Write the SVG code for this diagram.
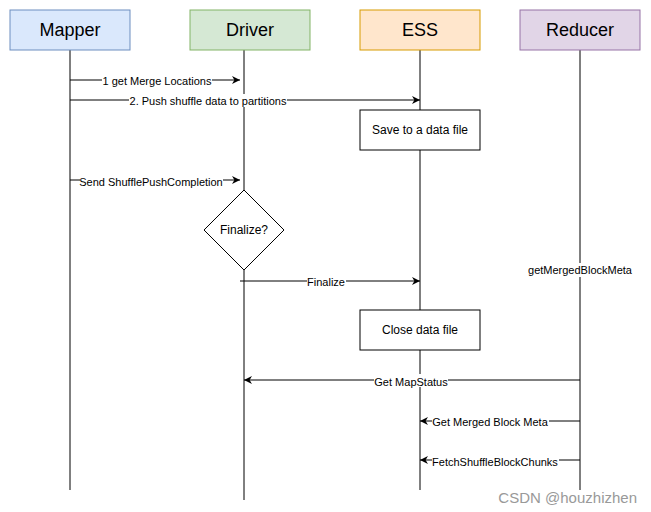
<svg xmlns="http://www.w3.org/2000/svg" width="651" height="512" viewBox="0 0 651 512">
<style>
.life{stroke:#000;stroke-width:1;fill:none}
.msg{stroke:#000;stroke-width:1;fill:none}
.box{fill:#fff;stroke:#000;stroke-width:1}
.hdr{font-family:"Liberation Sans",Arial,sans-serif;font-size:18px;fill:#000;text-anchor:middle;dominant-baseline:central}
.lbl{font-family:"Liberation Sans",Arial,sans-serif;font-size:11px;fill:#000;text-anchor:middle;dominant-baseline:central}
.txt{font-family:"Liberation Sans",Arial,sans-serif;font-size:12px;fill:#000;text-anchor:middle;dominant-baseline:central}
.bg{fill:#fff}
.wm{font-family:"Liberation Sans",Arial,sans-serif;font-size:15px;fill:#999;text-anchor:end;dominant-baseline:central}
</style>
<defs>
<marker id="ah" viewBox="0 0 10 10" refX="10" refY="5" markerWidth="8" markerHeight="8" markerUnits="userSpaceOnUse" orient="auto">
<path d="M0,0 L10,5 L0,10 L3,5 Z" fill="#000"/>
</marker>
</defs>
<rect width="651" height="512" fill="#fff"/>
<g id="lifelines">
<line class="life" x1="70" y1="50" x2="70" y2="490"/>
<line class="life" x1="244" y1="50" x2="244" y2="500"/>
<line class="life" x1="420" y1="50" x2="420" y2="490"/>
<line class="life" x1="580" y1="50" x2="580" y2="490"/>
</g>
<g id="mapper"><rect x="10" y="10" width="120" height="40" fill="#dae8fc" stroke="#6c8ebf"/><text class="hdr" x="70" y="30">Mapper</text></g>
<g id="driver"><rect x="190" y="10" width="120" height="40" fill="#d5e8d4" stroke="#82b366"/><text class="hdr" x="250" y="30">Driver</text></g>
<g id="ess"><rect x="360" y="10" width="120" height="40" fill="#ffe6cc" stroke="#d79b00"/><text class="hdr" x="420" y="30">ESS</text></g>
<g id="reducer"><rect x="520" y="10" width="120" height="40" fill="#e1d5e7" stroke="#9673a6"/><text class="hdr" x="580" y="30">Reducer</text></g>
<g id="save"><rect class="box" x="360" y="110" width="120" height="40"/><text class="txt" x="420" y="130">Save to a data file</text></g>
<g id="finalizeq"><path class="box" d="M244,190 L284,230 L244,270 L204,230 Z"/><text class="txt" x="244" y="230">Finalize?</text></g>
<g id="close"><rect class="box" x="360" y="310" width="120" height="40"/><text class="txt" x="420" y="330">Close data file</text></g>
<g id="reducer-note"><rect class="bg" x="528" y="263" width="106" height="14"/><text class="lbl" x="580" y="270">getMergedBlockMeta</text></g>
<g id="connectors">
<line class="msg" x1="70" y1="80" x2="240" y2="80" marker-end="url(#ah)"/>
<rect class="bg" x="102" y="74" width="110" height="13"/><text class="lbl" x="157" y="81">1 get Merge Locations</text>
<line class="msg" x1="70" y1="100" x2="420" y2="100" marker-end="url(#ah)"/>
<rect class="bg" x="129" y="94" width="158" height="13"/><text class="lbl" x="208" y="101">2. Push shuffle data to partitions</text>
<line class="msg" x1="70" y1="180" x2="240" y2="180" marker-end="url(#ah)"/>
<rect class="bg" x="80" y="174" width="143" height="13"/><text class="lbl" x="151" y="182">Send ShufflePushCompletion</text>
<line class="msg" x1="240" y1="281" x2="420" y2="281" marker-end="url(#ah)"/>
<rect class="bg" x="307" y="275" width="39" height="13"/><text class="lbl" x="326" y="282">Finalize</text>
<line class="msg" x1="580" y1="380" x2="244" y2="380" marker-end="url(#ah)"/>
<rect class="bg" x="374" y="374" width="74" height="13"/><text class="lbl" x="411" y="382">Get MapStatus</text>
<line class="msg" x1="580" y1="421" x2="420" y2="421" marker-end="url(#ah)"/>
<rect class="bg" x="432" y="415" width="117" height="13"/><text class="lbl" x="490" y="422">Get Merged Block Meta</text>
<line class="msg" x1="580" y1="460" x2="420" y2="460" marker-end="url(#ah)"/>
<rect class="bg" x="432" y="454" width="127" height="13"/><text class="lbl" x="495" y="462">FetchShuffleBlockChunks</text>
</g>
<text class="wm" x="637" y="497">CSDN @houzhizhen</text>
</svg>
